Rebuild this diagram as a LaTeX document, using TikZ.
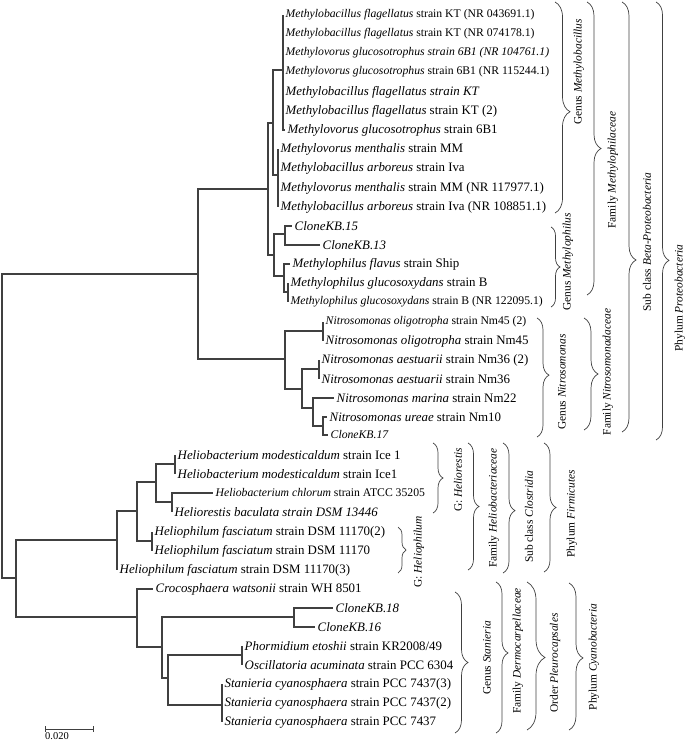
\documentclass[tikz,border=0pt]{standalone}
\usepackage{fontspec}
\setmainfont{Liberation Serif}
\usetikzlibrary{decorations.pathreplacing,calc}
\tikzset{
  branch/.style={line width=1.1pt, draw=black!75},
  taxon/.style={anchor=west, inner sep=2.5pt, font=\fontsize{12.9}{14}\selectfont},
  taxonsm/.style={taxon, font=\fontsize{11.7}{13}\selectfont},
  rankbrace/.style 2 args={decorate, decoration={brace, amplitude=#1, aspect=#2}, line width=0.7pt, draw=black!75},
  rank/.style={rotate=90, inner sep=0pt, font=\fontsize{11.4}{13}\selectfont},
}
\begin{document}
\begin{tikzpicture}[x=1pt,y=-1pt]
\useasboundingbox (0,0) rectangle (685,743);

% internal nodes of the tree
\coordinate (r) at (2,426);
\coordinate (P) at (198,274);
\coordinate (M) at (268,189);
\coordinate (M1) at (273,123);
\coordinate (M1a) at (283,70);
\coordinate (M1b) at (278,175);
\coordinate (M2) at (274,255);
\coordinate (C) at (285,234);
\coordinate (Mp) at (284,276);
\coordinate (Mg) at (288,292);
\coordinate (N) at (285,359);
\coordinate (N1) at (323,331);
\coordinate (N2) at (302,389);
\coordinate (N2a) at (319,369);
\coordinate (N2b) at (313,408);
\coordinate (N2c) at (323,426);
\coordinate (B) at (16,578);
\coordinate (H) at (117,540);
\coordinate (H1) at (137,511);
\coordinate (H2) at (156,482);
\coordinate (H2a) at (175,464);
\coordinate (H2b) at (172,502);
\coordinate (H3) at (152,541);
\coordinate (Cy) at (137,617);
\coordinate (Cy1) at (162,647);
\coordinate (Cl) at (294,617);
\coordinate (Cy2) at (168,678);
\coordinate (Ph) at (242,655);
\coordinate (St) at (222,705);

% Proteobacteria
\node[taxonsm] (t1) at (283,15) {\textit{Methylobacillus flagellatus} strain KT (NR 043691.1)};
\node[taxonsm] (t2) at (283,34) {\textit{Methylobacillus flagellatus} strain KT (NR 074178.1)};
\node[taxonsm] (t3) at (283,53) {\textit{Methylovorus glucosotrophus strain 6B1 (NR 104761.1)}};
\node[taxonsm] (t4) at (283,72) {\textit{Methylovorus glucosotrophus} strain 6B1 (NR 115244.1)};
\node[taxon] (t5) at (283,92) {\textit{Methylobacillus flagellatus strain KT}};
\node[taxon] (t6) at (283,111) {\textit{Methylobacillus flagellatus} strain KT (2)};
\node[taxon] (t7) at (285,130) {\textit{Methylovorus glucosotrophus} strain 6B1};
\node[taxon] (t8) at (278,149) {\textit{Methylovorus menthalis} strain MM};
\node[taxon] (t9) at (278,168) {\textit{Methylobacillus arboreus} strain Iva};
\node[taxon] (t10) at (278,188) {\textit{Methylovorus menthalis} strain MM (NR 117977.1)};
\node[taxon] (t11) at (278,207) {\textit{Methylobacillus arboreus} strain Iva (NR 108851.1)};
\node[taxon] (t12) at (292,226) {\textit{CloneKB.15}};
\node[taxon] (t13) at (320,245) {\textit{CloneKB.13}};
\node[taxon] (t14) at (290,264) {\textit{Methylophilus flavus} strain Ship};
\node[taxon] (t15) at (288,283) {\textit{Methylophilus glucosoxydans} strain B};
\node[taxonsm] (t16) at (288,302) {\textit{Methylophilus glucosoxydans} strain B (NR 122095.1)};
\node[taxonsm] (t17) at (323,322) {\textit{Nitrosomonas oligotropha} strain Nm45 (2)};
\node[taxon] (t18) at (323,341) {\textit{Nitrosomonas oligotropha} strain Nm45};
\node[taxon] (t19) at (319,360) {\textit{Nitrosomonas aestuarii} strain Nm36 (2)};
\node[taxon] (t20) at (319,379) {\textit{Nitrosomonas aestuarii} strain Nm36};
\node[taxon] (t21) at (334,398) {\textit{Nitrosomonas marina} strain Nm22};
\node[taxon] (t22) at (327,417) {\textit{Nitrosomonas ureae} strain Nm10};
\node[taxonsm] (t23) at (328,435) {\textit{CloneKB.17}};
% Firmicutes
\node[taxon] (t24) at (175,455) {\textit{Heliobacterium modesticaldum} strain Ice 1};
\node[taxon] (t25) at (175,474) {\textit{Heliobacterium modesticaldum} strain Ice1};
\node[taxonsm] (t26) at (213,493) {\textit{Heliobacterium chlorum} strain ATCC 35205};
\node[taxon] (t27) at (172,512) {\textit{Heliorestis baculata strain DSM 13446}};
\node[taxon] (t28) at (152,532) {\textit{Heliophilum fasciatum} strain DSM 11170(2)};
\node[taxon] (t29) at (152,551) {\textit{Heliophilum fasciatum} strain DSM 11170};
\node[taxon] (t30) at (117,570) {\textit{Heliophilum fasciatum} strain DSM 11170(3)};
% Cyanobacteria
\node[taxon] (t31) at (153,589) {\textit{Crocosphaera watsonii} strain WH 8501};
\node[taxon] (t32) at (333,608) {\textit{CloneKB.18}};
\node[taxon] (t33) at (315,627) {\textit{CloneKB.16}};
\node[taxon] (t34) at (242,646) {\textit{Phormidium etoshii} strain KR2008/49};
\node[taxon] (t35) at (242,665) {\textit{Oscillatoria acuminata} strain PCC 6304};
\node[taxon] (t36) at (222,684) {\textit{Stanieria cyanosphaera} strain PCC 7437(3)};
\node[taxon] (t37) at (222,703) {\textit{Stanieria cyanosphaera} strain PCC 7437(2)};
\node[taxon] (t38) at (222,722) {\textit{Stanieria cyanosphaera} strain PCC 7437};

% branches
\foreach \p/\c in {r/P, r/B, P/M, P/N, M/M1, M/M2, M1/M1a, M1/M1b, M2/C, M2/Mp, Mp/Mg,
    N/N1, N/N2, N2/N2a, N2/N2b, N2b/N2c, B/H, B/Cy, H/H1, H1/H2, H1/H3, H2/H2a, H2/H2b,
    Cy/Cy1, Cy1/Cl, Cy1/Cy2, Cy2/Ph, Cy2/St}
  \draw[branch] (\p) |- (\c);
\foreach \p/\c in {M1a/t1, M1a/t2, M1a/t3, M1a/t4, M1a/t5, M1a/t6, M1a/t7,
    M1b/t8, M1b/t9, M1b/t10, M1b/t11, C/t12, C/t13, Mp/t14, Mg/t15, Mg/t16,
    N1/t17, N1/t18, N2a/t19, N2a/t20, N2b/t21, N2c/t22, N2c/t23,
    H2a/t24, H2a/t25, H2b/t26, H2b/t27, H3/t28, H3/t29, H/t30,
    Cy/t31, Cl/t32, Cl/t33, Ph/t34, Ph/t35, St/t36, St/t37, St/t38}
  \draw[branch] (\p) |- (\c.west);

% scale bar
\coordinate (s0) at (45,729);
\coordinate (s1) at (93,729);
\draw[line width=0.8pt, draw=black!75] ($(s0)+(0,-3)$) -- ($(s0)+(0,3)$) (s0) -- (s1) ($(s1)+(0,-3)$) -- ($(s1)+(0,3)$);
\node[anchor=north west, inner sep=0pt, font=\fontsize{10.5}{12}\selectfont] (scale) at ($(s0)+(0,3)$) {0.020};

% ranks, Proteobacteria
\draw[rankbrace={15pt}{0.52}] (555,2) -- (555,213);
\node[rank] (gMb) at (579,72) {Genus \textit{Methylobacillus}};
\draw[rankbrace={9pt}{0.5}] (551,227) -- (551,307);
\node[rank] (gMp) at (568,262) {Genus \textit{Methylophilus}};
\draw[rankbrace={12pt}{0.48}] (537,318) -- (537,437);
\node[rank] (gNi) at (562,382) {Genus \textit{Nitrosomonas}};
\draw[rankbrace={14pt}{0.5}] (587,2) -- (587,295);
\node[rank] (fMp) at (613,170) {Family \textit{Methylophilaceae}};
\draw[rankbrace={14pt}{0.5}] (584,318) -- (584,430);
\node[rank] (fNi) at (608,372) {Family \textit{Nitrosomonadaceae}};
\draw[rankbrace={14pt}{0.6}] (622,2) -- (622,432);
\node[rank] (scB) at (647,242) {Sub class \textit{Beta-Proteobacteria}};
\draw[rankbrace={13pt}{0.59}] (656,2) -- (656,440);
\node[rank] (phP) at (680,298) {Phylum \textit{Proteobacteria}};

% ranks, Firmicutes
\draw[rankbrace={10pt}{0.5}] (433,443) -- (433,513);
\node[rank] (gHr) at (458,480) {G: \textit{Heliorestis}};
\draw[rankbrace={8pt}{0.5}] (398,527) -- (398,573);
\node[rank] (gHp) at (419,552) {G: \textit{Heliophilum}};
\draw[rankbrace={11pt}{0.5}] (468,443) -- (468,570);
\node[rank] (fHb) at (494,508) {Family \textit{Heliobacteriaceae}};
\draw[rankbrace={12pt}{0.52}] (503,443) -- (503,573);
\node[rank] (scC) at (529,517) {Sub class \textit{Clostridia}};
\draw[rankbrace={12pt}{0.5}] (544,443) -- (544,572);
\node[rank] (phF) at (572,514) {Phylum \textit{Firmicutes}};

% ranks, Cyanobacteria
\draw[rankbrace={13pt}{0.5}] (455,592) -- (455,733);
\node[rank] (gSt) at (487,658) {Genus \textit{Stanieria}};
\draw[rankbrace={12pt}{0.47}] (496,582) -- (496,733);
\node[rank] (fDe) at (518,651) {Family \textit{Dermocarpellaceae}};
\draw[rankbrace={18pt}{0.51}] (527,582) -- (527,730);
\node[rank] (oPl) at (555,663) {Order \textit{Pleurocapsales}};
\draw[rankbrace={14pt}{0.51}] (569,583) -- (569,730);
\node[rank] (phC) at (594,657) {Phylum \textit{Cyanobacteria}};
\end{tikzpicture}
\end{document}
